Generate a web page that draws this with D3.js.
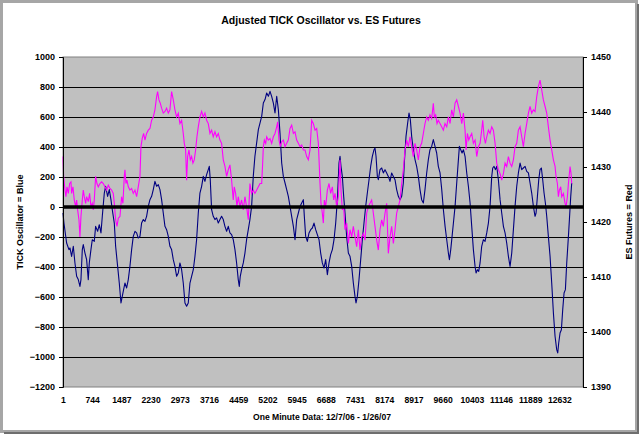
<!DOCTYPE html>
<html><head><meta charset="utf-8">
<script src="https://cdn.jsdelivr.net/npm/d3@7"></script>
<style>html,body{margin:0;padding:0;background:#fff;}svg{display:block;font-family:"Liberation Sans",Arial,sans-serif;}</style>
</head><body><div id="chart"></div>
<script>
// ---- data ----
const xTickLabels = [1,744,1487,2230,2973,3716,4459,5202,5945,6688,7431,8174,8917,9660,10403,11146,11889,12632];
const leftTicks = [-1200,-1000,-800,-600,-400,-200,0,200,400,600,800,1000];
const rightTicks = [1390,1400,1410,1420,1430,1440,1450];

const tickMinute = [1,25,93,153,178,220,263,305,348,390,432,458,492,517,560,602,644,670,712,746,797,831,882,924,967,1001,1052,1085,1136,1179,1221,1255,1306,1340,1391,1433,1476,1509,1543,1577,1620,1662,1704,1747,1789,1832,1874,1916,1959,2001,2044,2086,2128,2171,2213,2256,2298,2340,2383,2425,2468,2510,2552,2595,2637,2680,2722,2764,2807,2849,2892,2934,2976,3019,3061,3104,3146,3188,3231,3273,3316,3358,3400,3443,3485,3528,3570,3612,3655,3697,3723,3748,3782,3824,3867,3909,3952,3994,4036,4079,4121,4164,4206,4248,4291,4333,4376,4418,4460,4486,4511,4545,4588,4630,4672,4715,4757,4800,4842,4884,4971,5056,5098,5141,5183,5226,5268,5310,5353,5395,5438,5480,5522,5565,5607,5650,5692,5734,5777,5819,5862,5904,5946,5989,6031,6074,6116,6141,6175,6218,6260,6303,6345,6387,6430,6472,6515,6557,6599,6642,6684,6727,6769,6811,6854,6896,6939,6981,7023,7049,7074,7108,7142,7176,7218,7261,7303,7346,7388,7430,7456,7490,7532,7575,7617,7659,7702,7744,7787,7829,7871,7914,7939,7965,7999,8024,8066,8109,8151,8194,8236,8278,8321,8363,8406,8448,8490,8533,8575,8618,8660,8685,8728,8770,8804,8838,8872,8914,8957,8999,9042,9084,9126,9169,9211,9254,9296,9338,9381,9423,9466,9508,9550,9594,9637,9679,9722,9764,9806,9832,9866,9900,9934,9976,10018,10061,10086,10120,10154,10188,10230,10273,10315,10358,10400,10442,10485,10510,10544,10578,10612,10654,10697,10739,10782,10824,10866,10909,10934,10968,11002,11036,11078,11121,11163,11206,11248,11290,11333,11375,11418,11460,11502,11545,11587,11630,11672,11714,11757,11799,11842,11884,11926,11969,12011,12037,12071,12105,12138,12172,12206,12240,12274,12308,12350,12393,12435,12478,12520,12562,12588,12613,12647,12681,12715,12749,12783,12817,12860,12885,12919,12944];
const tickOsc = [-40,-107,-240,-284,-273,-329,-262,-373,-462,-484,-529,-484,-284,-251,-307,-351,-484,-373,-284,-218,-229,-129,-162,-118,-173,-62,93,138,71,116,49,-18,-107,-262,-396,-507,-640,-596,-551,-507,-540,-484,-396,-284,-196,-162,-173,-207,-196,-107,-84,-96,-62,4,49,71,116,171,138,149,116,49,-40,-129,-151,-196,-262,-284,-351,-396,-462,-440,-373,-418,-507,-640,-662,-640,-507,-462,-418,-329,-218,-40,93,138,204,171,216,249,271,182,-18,-62,-84,-73,-107,-84,-62,-84,-129,-162,-129,-173,-184,-218,-284,-373,-484,-529,-462,-418,-373,-307,-218,-151,-84,4,204,338,516,604,693,716,760,738,771,738,693,627,738,649,493,293,204,160,116,71,4,-62,-129,-218,-84,-40,4,27,49,-62,-196,-229,-173,-151,-140,-107,-151,-184,-218,-307,-373,-407,-351,-451,-373,-318,-284,-218,-107,49,293,338,271,204,71,-40,-196,-307,-329,-396,-507,-596,-640,-596,-484,-351,-218,-107,4,93,182,271,338,382,393,338,204,182,249,260,227,249,227,204,171,227,204,182,116,71,49,71,160,293,471,560,627,582,471,382,316,271,204,116,49,27,116,227,316,382,404,449,404,360,271,227,116,-18,-129,-218,-307,-351,-284,-196,-107,4,160,316,404,382,360,382,338,227,138,27,-129,-284,-396,-440,-418,-429,-373,-262,-218,-229,-173,-107,4,204,260,271,249,271,182,49,-40,-129,-173,-240,-329,-396,-307,-151,4,138,227,293,249,260,271,238,227,160,93,4,-62,-40,71,182,249,260,182,93,27,-62,-196,-329,-507,-707,-862,-951,-973,-907,-840,-818,-684,-573,-551,-373,-196,-84,71,160];

const esMinute = [1,17,51,76,102,136,170,204,220,254,288,322,348,373,407,432,458,492,517,543,577,602,644,678,712,746,772,797,831,865,899,941,984,1026,1068,1111,1153,1196,1238,1280,1306,1340,1374,1408,1450,1492,1526,1560,1577,1603,1628,1662,1704,1747,1789,1832,1874,1916,1959,1984,2018,2052,2086,2128,2171,2213,2256,2298,2340,2383,2408,2442,2476,2510,2552,2595,2637,2680,2722,2764,2807,2849,2892,2934,2976,3019,3061,3087,3121,3146,3172,3206,3240,3273,3307,3341,3375,3409,3443,3485,3528,3570,3612,3655,3697,3740,3782,3824,3867,3909,3952,3994,4036,4079,4121,4164,4206,4248,4291,4333,4359,4393,4427,4460,4503,4545,4588,4630,4672,4715,4757,4800,4842,4884,4971,5014,5056,5081,5098,5124,5158,5183,5226,5268,5310,5353,5395,5438,5463,5497,5531,5565,5607,5650,5692,5734,5777,5819,5862,5904,5946,5989,6031,6074,6116,6158,6201,6243,6286,6328,6370,6413,6455,6498,6540,6565,6599,6625,6650,6684,6727,6769,6811,6854,6888,6922,6964,7006,7049,7074,7108,7142,7176,7218,7261,7303,7346,7388,7430,7473,7515,7558,7600,7642,7685,7727,7770,7812,7854,7897,7939,7982,8024,8066,8109,8151,8194,8236,8278,8321,8363,8406,8448,8490,8533,8575,8618,8660,8702,8745,8787,8830,8872,8914,8957,8999,9042,9084,9126,9169,9211,9254,9296,9338,9381,9423,9449,9483,9517,9550,9593,9635,9678,9720,9764,9806,9849,9891,9934,9976,10018,10061,10103,10146,10188,10230,10256,10290,10324,10358,10400,10442,10485,10527,10570,10612,10654,10680,10714,10748,10782,10824,10866,10909,10951,10994,11036,11078,11121,11163,11206,11248,11290,11333,11375,11418,11460,11502,11545,11587,11630,11672,11714,11757,11799,11842,11884,11926,11969,12011,12054,12096,12138,12181,12223,12266,12308,12350,12393,12435,12478,12520,12545,12579,12605,12630,12664,12690,12732,12774,12800,12834,12860,12902,12927,12944];
const esPrice = [1431.9,1428.3,1425.8,1424.6,1426.4,1425.2,1427.0,1427.3,1425.2,1426.4,1424.0,1422.8,1424.0,1422.2,1420.4,1417.3,1421.0,1424.0,1425.8,1424.6,1423.4,1424.6,1423.7,1425.2,1422.8,1423.4,1422.2,1424.0,1428.3,1427.0,1426.4,1427.0,1427.3,1427.0,1426.4,1425.8,1426.7,1426.1,1425.8,1425.2,1423.4,1420.4,1419.2,1420.7,1421.0,1424.6,1423.4,1428.3,1429.5,1427.0,1427.6,1426.4,1425.8,1426.1,1425.2,1425.8,1424.6,1426.4,1428.3,1433.7,1435.2,1436.1,1434.9,1436.1,1436.7,1437.0,1438.5,1439.1,1440.4,1442.8,1443.7,1442.2,1441.6,1440.7,1439.8,1440.1,1440.7,1439.8,1440.4,1443.7,1442.2,1440.4,1439.1,1439.8,1437.9,1438.5,1436.1,1434.3,1433.1,1427.6,1431.9,1433.1,1431.3,1431.9,1430.7,1431.3,1433.1,1435.5,1437.3,1439.1,1440.1,1439.1,1439.8,1438.5,1437.9,1436.1,1436.7,1435.5,1436.4,1435.5,1436.1,1434.9,1434.3,1431.3,1430.1,1428.3,1429.5,1430.4,1427.6,1424.0,1426.4,1425.2,1422.8,1424.6,1422.8,1424.0,1422.2,1424.6,1422.8,1420.4,1427.0,1425.2,1425.8,1425.2,1426.4,1427.0,1427.0,1430.7,1433.7,1434.9,1434.3,1435.5,1434.9,1435.2,1434.3,1435.5,1436.1,1437.3,1438.2,1434.9,1433.7,1434.6,1434.9,1433.7,1434.3,1434.9,1437.0,1437.6,1436.1,1436.4,1434.9,1434.3,1433.7,1434.0,1433.1,1433.1,1431.9,1431.3,1433.1,1438.5,1437.9,1436.7,1437.0,1434.3,1427.0,1423.4,1421.6,1419.8,1424.0,1422.8,1425.8,1427.0,1425.2,1426.4,1424.0,1425.2,1422.8,1424.6,1431.3,1425.8,1422.2,1422.8,1418.6,1419.8,1416.1,1418.6,1417.3,1419.2,1417.3,1415.5,1418.6,1414.9,1417.3,1417.9,1416.7,1421.6,1422.8,1423.4,1424.0,1421.6,1419.2,1416.7,1414.9,1418.6,1420.4,1419.2,1421.6,1423.4,1414.3,1417.3,1419.2,1416.1,1418.6,1421.6,1422.8,1424.0,1427.0,1429.5,1433.1,1434.9,1433.7,1435.5,1433.7,1431.9,1434.3,1433.1,1431.3,1433.7,1434.3,1436.1,1437.9,1439.1,1438.5,1439.5,1438.8,1441.6,1439.1,1439.5,1437.9,1438.5,1437.9,1437.3,1436.7,1437.9,1437.3,1439.1,1437.9,1440.4,1439.1,1441.6,1442.2,1441.0,1439.8,1437.9,1439.8,1436.7,1433.1,1436.1,1434.9,1435.5,1436.1,1434.3,1434.9,1431.9,1433.7,1434.3,1436.7,1438.5,1435.5,1434.3,1435.5,1436.7,1436.1,1437.3,1436.7,1434.3,1430.7,1429.5,1428.8,1427.6,1428.8,1430.7,1430.1,1431.9,1430.7,1430.1,1431.3,1433.7,1434.3,1436.7,1437.3,1435.5,1433.7,1436.1,1437.9,1439.8,1441.0,1439.8,1440.4,1440.1,1442.8,1444.6,1445.8,1444.0,1442.2,1441.0,1439.8,1437.3,1434.9,1433.1,1431.3,1430.1,1428.3,1427.0,1424.6,1425.8,1426.4,1424.6,1425.2,1423.4,1422.8,1424.6,1427.0,1430.1,1428.8,1427.0];

// ---- layout ----
const W = 640, H = 435;
const plot = {l: 63, r: 583, t: 57, b: 387};
const svg = d3.select("#chart").append("svg").attr("width", W).attr("height", H);

// chart area frame
svg.append("rect").attr("x", 0).attr("y", 0).attr("width", W).attr("height", H).attr("fill", "#fff");
svg.append("rect").attr("x", 1.5).attr("y", 1.5).attr("width", W - 5).attr("height", H - 5)
  .attr("fill", "#fff").attr("stroke", "#a6a6a6").attr("stroke-width", 3);
svg.append("path").attr("d", `M${W-2},4 V${H-2} H4`).attr("fill", "none").attr("stroke", "#6e6e6e").attr("stroke-width", 2);

const x = d3.scaleLinear().domain([1, 13231]).range([plot.l, plot.r]);
const yL = d3.scaleLinear().domain([-1200, 1000]).range([plot.b, plot.t]);
const yR = d3.scaleLinear().domain([1390, 1450]).range([plot.b, plot.t]);

// plot area
svg.append("rect").attr("x", plot.l).attr("y", plot.t).attr("width", plot.r - plot.l).attr("height", plot.b - plot.t)
  .attr("fill", "#c0c0c0").attr("stroke", "#808080").attr("stroke-width", 1);

// gridlines
svg.append("g").selectAll("line").data(leftTicks.filter(d => d !== 0 && d > -1200 && d < 1000)).join("line")
  .attr("x1", plot.l).attr("x2", plot.r)
  .attr("y1", d => Math.round(yL(d)) + 0.5).attr("y2", d => Math.round(yL(d)) + 0.5)
  .attr("stroke", "#000").attr("stroke-width", 1);

// series
const oscData = tickMinute.map((m, i) => [m, tickOsc[i]]);
const esData = esMinute.map((m, i) => [m, esPrice[i]]);
svg.append("path").datum(oscData)
  .attr("d", d3.line().x(d => x(d[0])).y(d => yL(d[1])))
  .attr("fill", "none").attr("stroke", "#000080").attr("stroke-width", 1.1).attr("stroke-linejoin", "round");
svg.append("path").datum(esData)
  .attr("d", d3.line().x(d => x(d[0])).y(d => yR(d[1])))
  .attr("fill", "none").attr("stroke", "#ff00ff").attr("stroke-width", 1.1).attr("stroke-linejoin", "miter");

// zero line (category axis crossing)
svg.append("line").attr("x1", plot.l).attr("x2", plot.r).attr("y1", yL(0)).attr("y2", yL(0))
  .attr("stroke", "#000").attr("stroke-width", 3.5);

// left axis
const gL = svg.append("g").attr("transform", `translate(${plot.l},0)`)
  .call(d3.axisLeft(yL).tickValues(leftTicks).tickSize(4).tickPadding(4).tickFormat(d3.format("d")));
gL.select(".domain").attr("stroke", "#000");
gL.selectAll(".tick line").attr("stroke", "#000");
gL.selectAll("text").attr("font-size", 9).attr("font-weight", "bold").attr("fill", "#000")
  .attr("font-family", "Liberation Sans, Arial, sans-serif");

// right axis
const gR = svg.append("g").attr("transform", `translate(${plot.r},0)`)
  .call(d3.axisRight(yR).tickValues(rightTicks).tickSize(4).tickPadding(4).tickFormat(d3.format("d")));
gR.select(".domain").attr("stroke", "#000");
gR.selectAll(".tick line").attr("stroke", "#000");
gR.selectAll("text").attr("font-size", 9).attr("font-weight", "bold").attr("fill", "#000")
  .attr("font-family", "Liberation Sans, Arial, sans-serif");

// bottom labels
const gB = svg.append("g").attr("transform", `translate(0,${plot.b})`)
  .call(d3.axisBottom(x).tickValues(xTickLabels).tickSize(0).tickPadding(10).tickFormat(d3.format("d")));
gB.select(".domain").remove();
gB.selectAll("text").attr("font-size", 8.6).attr("font-weight", "bold").attr("fill", "#000")
  .attr("font-family", "Liberation Sans, Arial, sans-serif");

// titles
svg.append("text").attr("x", 321).attr("y", 24).attr("text-anchor", "middle")
  .attr("font-size", 10.5).attr("font-weight", "bold").text("Adjusted TICK Oscillator vs. ES Futures");
svg.append("text").attr("x", 322).attr("y", 420).attr("text-anchor", "middle")
  .attr("font-size", 8.6).attr("font-weight", "bold").text("One Minute Data: 12/7/06 - 1/26/07");
svg.append("text").attr("transform", "translate(23,222) rotate(-90)").attr("text-anchor", "middle")
  .attr("font-size", 9).attr("font-weight", "bold").text("TICK Oscillator = Blue");
svg.append("text").attr("transform", "translate(632,222) rotate(-90)").attr("text-anchor", "middle")
  .attr("font-size", 9).attr("font-weight", "bold").text("ES Futures = Red");
</script></body></html>
